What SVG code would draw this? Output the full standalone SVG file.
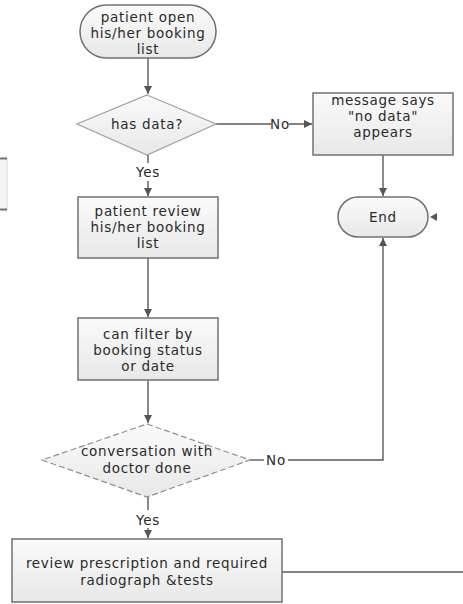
<svg xmlns="http://www.w3.org/2000/svg" width="463" height="604" viewBox="0 0 463 604">
<defs>
<linearGradient id="g" x1="0" y1="0" x2="0" y2="1">
<stop offset="0" stop-color="#fafafa"/>
<stop offset="1" stop-color="#e8e8e8"/>
</linearGradient>
<marker id="ah" viewBox="0 0 10 10" refX="10" refY="5" markerWidth="8" markerHeight="8" markerUnits="userSpaceOnUse" orient="auto">
<path d="M0,0 L10,5 L0,10 z" fill="#555"/>
</marker>
</defs>
<style>
.n{fill:url(#g);stroke:#707070;stroke-width:1.5}
.d{fill:url(#g);stroke:#a0a0a0;stroke-width:1.2}
.dd{fill:url(#g);stroke:#909090;stroke-width:1.2;stroke-dasharray:6 3}
.c{fill:none;stroke:#5a5a5a;stroke-width:1.4}
text{font-family:"DejaVu Sans",Verdana,sans-serif;font-size:13.5px;fill:#2a2a2a;text-anchor:middle;letter-spacing:0.7px}
</style>
<rect width="463" height="604" fill="#fff"/>
<g id="fragment">
<rect x="-2" y="158" width="9" height="52" fill="#f4f4f4" stroke="#d8d8d8"/>
<line x1="0" y1="158.5" x2="7" y2="158.5" stroke="#777" stroke-width="2"/>
<line x1="0" y1="209.5" x2="7" y2="209.5" stroke="#777" stroke-width="2"/>
</g>
<g id="connectors">
<path class="c" d="M148,58 V94" marker-end="url(#ah)"/>
<path class="c" d="M216,124 H271 M289,124 H312" marker-end="url(#ah)"/>
<path class="c" d="M148,155 V163 M148,181 V196" marker-end="url(#ah)"/>
<path class="c" d="M148,258 V317" marker-end="url(#ah)"/>
<path class="c" d="M148,380 V423" marker-end="url(#ah)"/>
<path class="c" d="M383,155 V196" marker-end="url(#ah)"/>
<path class="c" d="M288,460 H383 V238" marker-end="url(#ah)"/>
<path class="c" d="M250,460 H264"/>
<path class="c" d="M148,497 V510 M148,528 V538" marker-end="url(#ah)"/>
<path class="c" d="M282,572 H463"/>
<path d="M430,217 L437,213 L437,221 z" fill="#555"/>
<text x="280" y="129">No</text>
<text x="148" y="177">Yes</text>
<text x="276" y="465">No</text>
<text x="148" y="525">Yes</text>
</g>
<g id="start">
<rect class="n" x="80" y="5" width="136" height="53" rx="26.5" ry="26.5"/>
<text x="148" y="22">patient open</text>
<text x="148" y="38">his/her booking</text>
<text x="148" y="54">list</text>
</g>
<g id="hasData">
<polygon class="d" points="147,95 216,124 147,155 77,124"/>
<text x="147" y="129">has data?</text>
</g>
<g id="noData">
<rect class="n" x="313" y="93" width="140" height="62"/>
<text x="383" y="105">message says</text>
<text x="383" y="121">"no data"</text>
<text x="383" y="137">appears</text>
</g>
<g id="end">
<rect class="n" x="338" y="197" width="90" height="40" rx="20" ry="20"/>
<text x="383" y="222">End</text>
</g>
<g id="review">
<rect class="n" x="78" y="197" width="140" height="61"/>
<text x="148" y="216">patient review</text>
<text x="148" y="232">his/her booking</text>
<text x="148" y="248">list</text>
</g>
<g id="filter">
<rect class="n" x="78" y="318" width="140" height="62"/>
<text x="148" y="339">can filter by</text>
<text x="148" y="355">booking status</text>
<text x="148" y="371">or date</text>
</g>
<g id="conversation">
<polygon class="dd" points="147,424 250,460 147,497 42,460"/>
<text x="147" y="456">conversation with</text>
<text x="147" y="473">doctor done</text>
</g>
<g id="prescription">
<rect class="n" x="12" y="539" width="270" height="63"/>
<text x="147" y="568">review prescription and required</text>
<text x="147" y="585">radiograph &amp;tests</text>
</g>
</svg>
